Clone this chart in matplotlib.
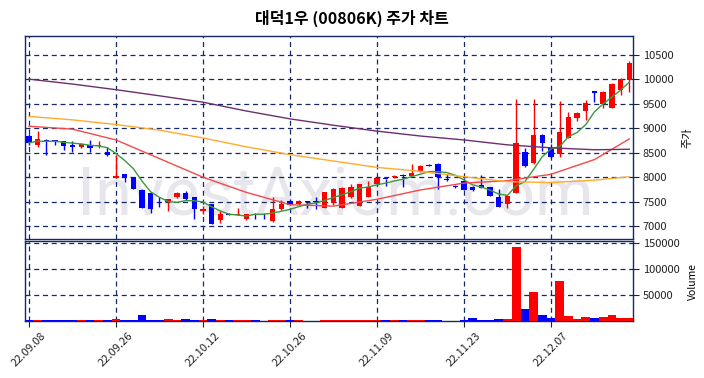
#!/usr/bin/env python3
import numpy as np
import pandas as pd
import matplotlib
matplotlib.use("Agg")
import matplotlib.pyplot as plt

plt.rcParams["font.family"] = ["Noto Sans CJK KR", "DejaVu Sans"]

# --- Data ---
TITLE = "대덕1우 (00806K) 주가 차트"
tick_pos = [0, 10, 20, 30, 40, 50, 60]
tick_labels = ["22.09.08", "22.09.26", "22.10.12", "22.10.26", "22.11.09", "22.11.23", "22.12.07"]

opens = [8850, 8650, 8760, 8760, 8730, 8650, 8610, 8660, 8630, 8510,
         7990, 8060, 8000, 7740, 7680, 7500, 7500, 7590, 7670, 7590,
         7310, 7450, 7130, 7260, 7230, 7140, 7260, 7260, 7100, 7350,
         7520, 7450, 7500, 7510, 7380, 7470, 7380, 7590, 7420, 7600,
         7860, 7970, 8000, 8050, 8030, 8120, 8250, 8270, 7960, 7830,
         7920, 7810, 7840, 7800, 7600, 7450, 7680, 8510, 8280, 8860,
         8600, 8470, 8800, 9210, 9360, 9760, 9500, 9420, 9770, 9990]
closes = [8700, 8770, 8730, 8730, 8630, 8620, 8680, 8600, 8660, 8450,
          8020, 7980, 7760, 7380, 7360, 7470, 7550, 7680, 7550, 7350,
          7350, 7050, 7250, 7230, 7260, 7250, 7240, 7240, 7350, 7450,
          7440, 7520, 7490, 7490, 7690, 7750, 7790, 7800, 7860, 7800,
          7980, 7960, 8020, 8030, 8080, 8220, 8230, 8010, 7940, 7800,
          7740, 7730, 7790, 7620, 7400, 7610, 8700, 8220, 8860, 8700,
          8410, 8930, 9220, 9300, 9510, 9710, 9740, 9910, 10010, 10320]
highs = [8880, 8950, 8770, 8760, 8740, 8740, 8690, 8750, 8730, 8620,
         8460, 8070, 8000, 7760, 7690, 7590, 7560, 7700, 7710, 7600,
         7420, 7460, 7310, 7265, 7380, 7260, 7265, 7270, 7590, 7530,
         7530, 7530, 7520, 7590, 7700, 7790, 7800, 7860, 7870, 7920,
         7990, 7970, 8040, 8060, 8260, 8240, 8265, 8280, 8060, 7840,
         7990, 7820, 8050, 7810, 7750, 7630, 9600, 8590, 9600, 8880,
         8680, 9560, 9330, 9320, 9580, 9760, 9750, 9930, 10020, 10360]
lows = [8650, 8620, 8460, 8660, 8560, 8520, 8600, 8520, 8600, 8440,
        7990, 7910, 7750, 7370, 7270, 7400, 7310, 7580, 7540, 7140,
        7250, 7040, 7070, 7220, 7220, 7130, 7150, 7150, 7090, 7340,
        7430, 7440, 7380, 7350, 7370, 7440, 7370, 7580, 7410, 7590,
        7850, 7830, 7990, 7800, 8020, 8110, 8220, 7760, 7920, 7790,
        7730, 7710, 7780, 7610, 7390, 7380, 7670, 8200, 8270, 8540,
        8400, 8420, 8790, 9140, 9170, 9530, 9420, 9410, 9670, 9740]
volumes = [1800, 1500, 1200, 1000, 1200, 1000, 1500, 1000, 1500, 1500,
           3200, 1500, 1500, 10900, 2000, 1500, 3200, 1500, 3200, 2000,
           1800, 3200, 1500, 1000, 1000, 1200, 1200, 300, 1200, 1500,
           1000, 1000, 800, 800, 1500, 1200, 1200, 1000, 1000, 1500,
           1500, 1500, 1500, 1200, 1500, 1500, 1200, 1500, 300, 300,
           1800, 5100, 1800, 2500, 3200, 3200, 142000, 22000, 55500, 10900,
           5800, 76000, 9000, 3200, 7000, 5100, 7000, 10900, 5100, 5100]

# longer moving averages, read at every 5th session
ma_idx = [0, 5, 10, 15, 20, 25, 30, 35, 40, 45, 50, 55, 60, 65, 69]
ma20 = [9040, 8980, 8760, 8380, 8000, 7690, 7440, 7410, 7550, 7740, 7880, 7930, 8060, 8360, 8780]
ma60 = [9240, 9170, 9075, 8960, 8800, 8620, 8460, 8330, 8200, 8120, 8010, 7910, 7890, 7940, 8010]
ma120 = [10000, 9900, 9785, 9660, 9530, 9350, 9190, 9060, 8940, 8840, 8760, 8660, 8600, 8560, 8570]

# --- Styling ---
UP = "#ff0000"
DOWN = "#0000ff"
NAVY = "#14286a"
W, H = 704, 378


def frac_box(x0, y0, x1, y1):
    """Pixel box (top-left origin) to figure fraction rect."""
    return [x0 / W, 1 - y1 / H, (x1 - x0) / W, (y1 - y0) / H]


def style_axis(ax):
    for s in ax.spines.values():
        s.set_color(NAVY)
        s.set_linewidth(1.0)
    ax.grid(True, color=NAVY, linestyle=(0, (4, 3)), linewidth=0.9)
    ax.set_axisbelow(True)
    ax.yaxis.tick_right()
    ax.yaxis.set_label_position("right")
    ax.tick_params(axis="y", labelsize=8, length=4, pad=3, colors="#222222")


def main():
    df = pd.DataFrame({"open": opens, "close": closes, "high": highs,
                       "low": lows, "volume": volumes})
    x = np.arange(len(df))
    up = df["close"] >= df["open"]
    colors = np.where(up, UP, DOWN)
    ma5 = df["close"].rolling(5, min_periods=1).mean()

    fig = plt.figure(figsize=(7.04, 3.78), dpi=100)
    ax = fig.add_axes(frac_box(25, 36, 633, 239))
    axv = fig.add_axes(frac_box(25, 241, 633, 321), sharex=ax)

    # watermark
    ax.text(0.51, 0.115, "InvestAxiom.com", transform=ax.transAxes,
            ha="center", va="baseline", fontsize=48, color="#e6e6ec",
            family="Roboto", zorder=0)

    # candles
    ax.vlines(x, df["low"], df["high"], colors=colors, linewidth=1.0, zorder=3)
    body = (df["close"] - df["open"]).abs().clip(lower=20)
    bottom = df[["open", "close"]].min(axis=1)
    ax.bar(x, body, bottom=bottom, width=0.62, color=colors, zorder=3)

    # moving averages
    ax.plot(x, ma5, color="#3a9a3a", linewidth=1.0, zorder=4)
    ax.plot(ma_idx, ma20, color="#f24a4a", linewidth=1.0, zorder=4)
    ax.plot(ma_idx, ma60, color="#ffab2e", linewidth=1.0, zorder=4)
    ax.plot(ma_idx, ma120, color="#6e2e6e", linewidth=1.0, zorder=4)

    style_axis(ax)
    ax.set_ylim(6740, 10880)
    ax.set_yticks(np.arange(7000, 10501, 500))
    ax.set_ylabel("주가", fontsize=8)
    ax.yaxis.set_label_coords(1.082, 0.5)
    ax.tick_params(axis="x", labelbottom=False, length=0)

    # volume
    axv.bar(x, df["volume"], width=1.0, color=colors, zorder=3)
    style_axis(axv)
    axv.set_ylim(0, 153000)
    axv.set_yticks([50000, 100000, 150000])
    axv.set_ylabel("Volume", fontsize=7.5)
    axv.yaxis.set_label_coords(1.09, 0.5)

    axv.set_xlim(-0.46, 69.43)
    axv.set_xticks(tick_pos)
    axv.set_xticklabels(tick_labels, rotation=45, fontsize=8)
    axv.tick_params(axis="x", length=4, pad=3, colors="#222222")

    fig.text(0.5, 1 - 18 / H, TITLE, ha="center", va="center",
             fontsize=11.5, fontweight="bold")

    fig.savefig("out.png", dpi=100)


if __name__ == "__main__":
    main()
